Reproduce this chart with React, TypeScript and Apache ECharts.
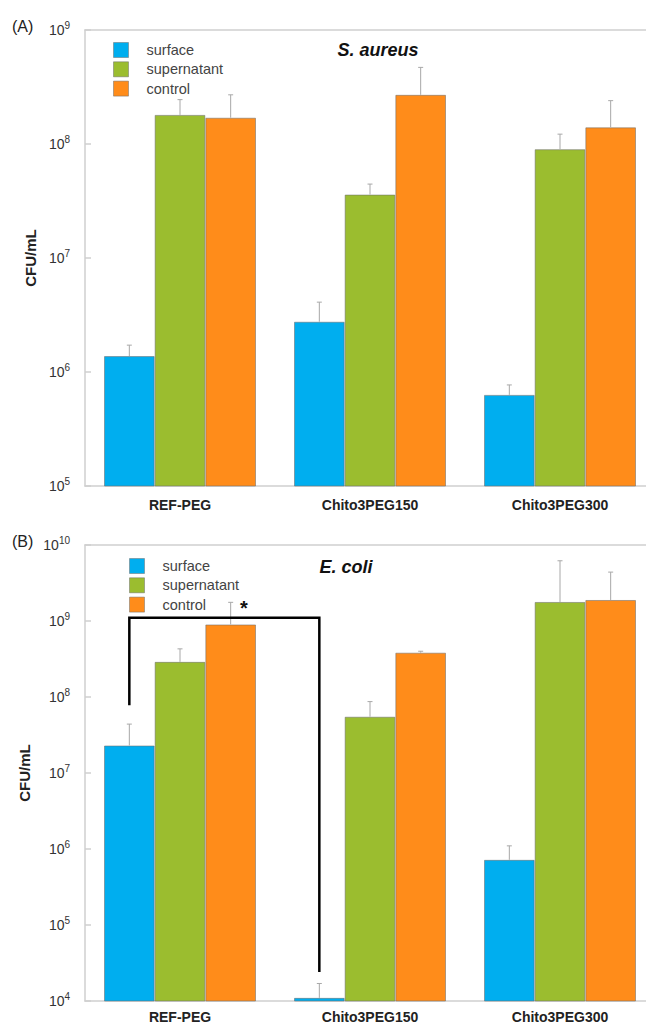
import React, { useEffect, useRef } from 'react';
import * as echarts from 'echarts';

const categories = ['REF-PEG', 'Chito3PEG150', 'Chito3PEG300'];
const seriesNames = ['surface', 'supernatant', 'control'];
const colors = ['#00AEEF', '#9BBD2F', '#FF8C1A'];

// Panel A: S. aureus (mean and upper error bar end)
const aureusSurface = [1.38e6, 2.76e6, 6.3e5];
const aureusSurfaceErr = [1.72e6, 4.1e6, 7.7e5];
const aureusSupernatant = [1.8e8, 3.6e7, 9.0e7];
const aureusSupernatantErr = [2.45e8, 4.45e7, 1.22e8];
const aureusControl = [1.7e8, 2.7e8, 1.4e8];
const aureusControlErr = [2.7e8, 4.7e8, 2.4e8];

// Panel B: E. coli
const coliSurface = [2.3e7, 1.1e4, 7.2e5];
const coliSurfaceErr = [4.4e7, 1.7e4, 1.1e6];
const coliSupernatant = [2.9e8, 5.5e7, 1.78e9];
const coliSupernatantErr = [4.3e8, 8.7e7, 6.2e9];
const coliControl = [9.0e8, 3.83e8, 1.89e9];
const coliControlErr = [1.76e9, 4.0e8, 4.4e9];

const aureusRange = [1e5, 1e9];
const coliRange = [1e4, 1e10];

// significance bracket (category index, value) on surface bars, panel B
const bracketPoints = [
  [0, 7.8e7],
  [0, 1.1e9],
  [1, 1.1e9],
  [1, 2.4e4],
];

const GAP = 0.2;
const FONT = 'Liberation Sans, Arial, sans-serif';

export default function App() {
  const ref = useRef<HTMLDivElement>(null);
  useEffect(() => {
    const chart = echarts.init(ref.current!, undefined, { renderer: 'svg' });

    const panels = [
      {
        vals: [aureusSurface, aureusSupernatant, aureusControl],
        errs: [aureusSurfaceErr, aureusSupernatantErr, aureusControlErr],
        range: aureusRange,
        top: 30,
        labelMargin: 12,
      },
      {
        vals: [coliSurface, coliSupernatant, coliControl],
        errs: [coliSurfaceErr, coliSupernatantErr, coliControlErr],
        range: coliRange,
        top: 545,
        labelMargin: 9,
      },
    ];

    const grid = panels.map((p) => ({ left: 85, top: p.top, width: 570, height: 456, outerBoundsMode: 'none', containLabel: false }));

    const xAxis: any[] = [];
    const yAxis: any[] = [];
    panels.forEach((p, gi) => {
      xAxis.push({
        type: 'category',
        gridIndex: gi,
        data: categories,
        position: 'bottom',
        axisLine: { lineStyle: { color: '#cfcfcf', width: 1.5 } },
        axisTick: { inside: true, length: 6, lineStyle: { color: '#cfcfcf', width: 1.5 } },
        axisLabel: { fontSize: 14, fontWeight: 'bold', color: '#222', margin: p.labelMargin, fontFamily: FONT },
      });
      xAxis.push({
        type: 'category',
        gridIndex: gi,
        data: categories,
        position: 'top',
        axisLine: { lineStyle: { color: '#cfcfcf', width: 1.5 } },
        axisTick: { inside: true, length: 6, lineStyle: { color: '#cfcfcf', width: 1.5 } },
        axisLabel: { show: false },
      });
      yAxis.push({
        type: 'log',
        logBase: 10,
        gridIndex: gi,
        min: p.range[0],
        max: p.range[1],
        name: 'CFU/mL',
        nameLocation: 'middle',
        nameGap: 44,
        nameTextStyle: { fontSize: 15, fontWeight: 'bold', color: '#222', fontFamily: FONT },
        axisLine: { show: true, lineStyle: { color: '#cfcfcf', width: 1.5 } },
        axisTick: { show: true, inside: true, length: 6, lineStyle: { color: '#cfcfcf', width: 1.5 } },
        splitLine: { show: false },
        axisLabel: {
          margin: 15,
          formatter: (v: number) => `{b|10}{s|${Math.round(Math.log10(v))}}`,
          rich: {
            b: { fontSize: 14, color: '#333', fontFamily: FONT },
            s: { fontSize: 10, color: '#333', padding: [0, 0, 9, 0], fontFamily: FONT },
          },
        },
      });
    });

    const series: any[] = [];
    panels.forEach((p, gi) => {
      seriesNames.forEach((name, k) => {
        series.push({
          type: 'bar',
          name,
          xAxisIndex: gi * 2,
          yAxisIndex: gi,
          data: p.vals[k],
          barGap: '0%',
          barCategoryGap: '20%',
          itemStyle: { color: colors[k], borderColor: 'rgba(110,110,110,0.55)', borderWidth: 1 },
          z: 2,
        });
      });
      seriesNames.forEach((name, k) => {
        series.push({
          type: 'custom',
          name: name + '-err',
          xAxisIndex: gi * 2,
          yAxisIndex: gi,
          z: 3,
          silent: true,
          encode: { x: 0, y: [1, 2] },
          data: categories.map((_, i) => [i, p.vals[k][i], p.errs[k][i]]),
          renderItem: (params: any, api: any) => {
            const idx = api.value(0);
            const v = api.value(1);
            const e = api.value(2);
            const band = api.size([1, 1])[0];
            const bw = (band * (1 - GAP)) / 3;
            const off = (k - 1) * bw;
            const p0 = api.coord([idx, v]);
            const p1 = api.coord([idx, e]);
            const x = p0[0] + off;
            const st = { stroke: '#a8a8a8', lineWidth: 1 };
            return {
              type: 'group',
              children: [
                { type: 'line', shape: { x1: x, y1: p0[1], x2: x, y2: p1[1] }, style: st },
                { type: 'line', shape: { x1: x - 2.5, y1: p1[1], x2: x + 2.5, y2: p1[1] }, style: st },
              ],
            };
          },
        });
      });
    });

    series.push({
      type: 'custom',
      name: 'bracket',
      xAxisIndex: 2,
      yAxisIndex: 1,
      z: 5,
      silent: true,
      data: [[0, 1e6]],
      renderItem: (params: any, api: any) => {
        const band = api.size([1, 1])[0];
        const bw = (band * (1 - GAP)) / 3;
        const pts = bracketPoints.map((bp) => {
          const c = api.coord([bp[0], bp[1]]);
          return [c[0] - bw, c[1]];
        });
        return {
          type: 'polyline',
          shape: { points: pts },
          style: { stroke: '#000', lineWidth: 2.5, fill: null },
        };
      },
    });

    const legendBase = {
      data: seriesNames,
      orient: 'vertical',
      padding: 0,
      itemWidth: 15,
      itemHeight: 15,
      itemGap: 3.3,
      icon: 'rect',
      itemStyle: { borderColor: 'rgba(110,110,110,0.5)', borderWidth: 1 },
      textStyle: { fontSize: 14.5, lineHeight: 15, color: '#444', padding: [0, 0, 0, 13], fontFamily: FONT },
      selectedMode: false,
    };

    chart.setOption({
      animation: false,
      grid,
      xAxis,
      yAxis,
      legend: [
        { ...legendBase, left: 113, top: 42 },
        { ...legendBase, left: 129, top: 558 },
      ],
      graphic: [
        { type: 'text', left: 12, top: 18, style: { text: '(A)', fontSize: 16, fill: '#222', fontFamily: FONT } },
        { type: 'text', left: 12, top: 533, style: { text: '(B)', fontSize: 16, fill: '#222', fontFamily: FONT } },
        { type: 'text', x: 378, y: 50, style: { text: 'S. aureus', fontSize: 18, fontWeight: 'bold', fontStyle: 'italic', fill: '#111', align: 'center', verticalAlign: 'middle', fontFamily: FONT } },
        { type: 'text', x: 346, y: 567, style: { text: 'E. coli', fontSize: 18, fontWeight: 'bold', fontStyle: 'italic', fill: '#111', align: 'center', verticalAlign: 'middle', fontFamily: FONT } },
        { type: 'text', x: 244, y: 608, style: { text: '*', fontSize: 20, fontWeight: 'bold', fill: '#111', align: 'center', verticalAlign: 'middle', fontFamily: FONT } },
      ],
      series,
    });
    return () => chart.dispose();
  }, []);
  return <div ref={ref} style={{ position: 'absolute', left: 0, top: 0, width: 646, height: 1027, background: '#fff' }} />;
}
